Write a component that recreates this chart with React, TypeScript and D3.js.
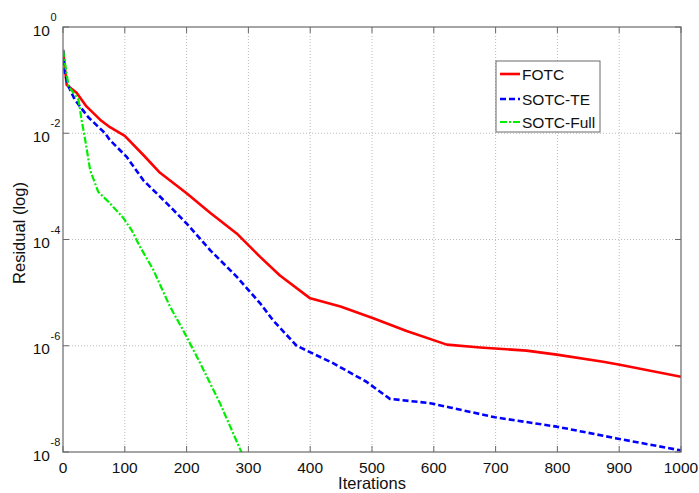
import React from "react";
import * as d3 from "d3";

const fotcIter = [0, 6, 22, 38, 60, 76, 100, 130, 157, 200, 238, 281, 319, 351, 400, 449, 502, 556, 621, 675, 750, 799, 874, 901, 1000];
const fotcRes = [3.7e-1, 8.1e-2, 5.8e-2, 3.2e-2, 1.8e-2, 1.3e-2, 8.9e-3, 3.9e-3, 1.8e-3, 7.4e-4, 3.2e-4, 1.3e-4, 4.7e-5, 2.1e-5, 7.8e-6, 5.5e-6, 3.3e-6, 1.9e-6, 1.05e-6, 9.3e-7, 8.1e-7, 6.8e-7, 5.0e-7, 4.4e-7, 2.6e-7];

const teIter = [0, 3, 9, 19, 41, 68, 76, 103, 130, 168, 200, 238, 281, 319, 340, 378, 437, 491, 529, 594, 626, 699, 799, 896, 1000];
const teRes = [3.7e-1, 1.35e-1, 7.6e-2, 4.3e-2, 2.0e-2, 1.0e-2, 7.4e-3, 3.6e-3, 1.3e-3, 4.8e-4, 2.0e-4, 6.3e-5, 2.0e-5, 6.3e-6, 3.0e-6, 1.0e-6, 4.7e-7, 2.1e-7, 1.0e-7, 8.3e-8, 6.9e-8, 4.5e-8, 3.0e-8, 1.8e-8, 1.07e-8];

const fullIter = [0, 9, 25, 30, 36, 44, 57, 76, 98, 111, 125, 146, 173, 195, 211, 222, 254, 286, 295];
const fullRes = [3.7e-1, 7.6e-2, 4.3e-2, 1.8e-2, 7.4e-3, 2.0e-3, 7.9e-4, 4.8e-4, 2.5e-4, 1.5e-4, 7.2e-5, 2.7e-5, 5.5e-6, 1.9e-6, 8.3e-7, 4.7e-7, 8.3e-8, 1.17e-8, 7.0e-9];

const xTicks = [0, 100, 200, 300, 400, 500, 600, 700, 800, 900, 1000];
const yTickExps = [0, -2, -4, -6, -8];
const seriesNames = ["FOTC", "SOTC-TE", "SOTC-Full"];

const W = 699, H = 493;
const L = 63, R = 681, T = 27, B = 452;
const FONT = "'Liberation Sans', Arial, Helvetica, sans-serif";

export default function App() {
  const x = d3.scaleLinear().domain([0, 1000]).range([L, R]);
  const y = d3.scaleLog().domain([1e-8, 1]).range([B, T]);
  const mk = (its: number[], rs: number[]) =>
    d3.line<number>().x((_, i) => x(its[i])).y((d) => y(d))(rs) || "";

  const series = [
    { name: seriesNames[0], d: mk(fotcIter, fotcRes), color: "#ff0000", dash: "none", w: 2.6 },
    { name: seriesNames[1], d: mk(teIter, teRes), color: "#0000ff", dash: "6,3", w: 2.6 },
    { name: seriesNames[2], d: mk(fullIter, fullRes), color: "#00ee00", dash: "7,2,2,2", w: 2.2 },
  ];
  const axisColor = "#6a6a6a";

  return (
    <svg width={W} height={H} style={{ position: "absolute", left: 0, top: 0, background: "#fff" }} fontFamily={FONT}>
      <defs>
        <clipPath id="plotclip">
          <rect x={L} y={T} width={R - L} height={B - T} />
        </clipPath>
      </defs>
      <rect x={0} y={0} width={W} height={H} fill="#fff" />
      {xTicks.slice(1, -1).map((t) => (
        <line key={"gx" + t} x1={x(t)} x2={x(t)} y1={T} y2={B} stroke="#bbb" strokeWidth={1} strokeDasharray="1,2" />
      ))}
      {yTickExps.slice(1, -1).map((e) => (
        <line key={"gy" + e} x1={L} x2={R} y1={y(Math.pow(10, e))} y2={y(Math.pow(10, e))} stroke="#bbb" strokeWidth={1} strokeDasharray="1,2" />
      ))}
      <g clipPath="url(#plotclip)">
        {series.map((s) => (
          <path key={s.name} d={s.d} fill="none" stroke={s.color} strokeWidth={s.w} strokeDasharray={s.dash} strokeLinejoin="round" />
        ))}
      </g>
      <rect x={L} y={T} width={R - L} height={B - T} fill="none" stroke={axisColor} strokeWidth={1.2} />
      {xTicks.map((t) => (
        <g key={"tx" + t}>
          <line x1={x(t)} x2={x(t)} y1={B} y2={B - 6} stroke={axisColor} />
          <line x1={x(t)} x2={x(t)} y1={T} y2={T + 6} stroke={axisColor} />
          <text x={x(t)} y={472.5} textAnchor="middle" fontSize={15.5} fill="#111">{t}</text>
        </g>
      ))}
      {yTickExps.map((e) => {
        const yy = y(Math.pow(10, e));
        return (
          <g key={"ty" + e}>
            <line x1={L} x2={L + 6} y1={yy} y2={yy} stroke={axisColor} />
            <line x1={R} x2={R - 6} y1={yy} y2={yy} stroke={axisColor} />
            <text x={50} y={yy + 8.5} textAnchor="end" fontSize={15.5} fill="#111">10</text>
            <text x={50.5} y={yy - 6} textAnchor="start" fontSize={11} fill="#111">{e === 0 ? "0" : "-" + Math.abs(e)}</text>
          </g>
        );
      })}
      <text x={(L + R) / 2} y={489} textAnchor="middle" fontSize={16.5} fill="#111">Iterations</text>
      <text transform={`translate(25,${233}) rotate(-90)`} textAnchor="middle" fontSize={16.5} fill="#111">Residual (log)</text>
      <rect x={496} y={61} width={104} height={71} fill="#fff" stroke={axisColor} strokeWidth={1} />
      {series.map((s, i) => {
        const ly = [74, 99, 122][i];
        return (
          <g key={"lg" + s.name}>
            <line x1={500} x2={520} y1={ly} y2={ly} stroke={s.color} strokeWidth={s.w} strokeDasharray={s.dash} />
            <text x={522} y={ly + 5.5} fontSize={15.5} fill="#111">{s.name}</text>
          </g>
        );
      })}
    </svg>
  );
}
